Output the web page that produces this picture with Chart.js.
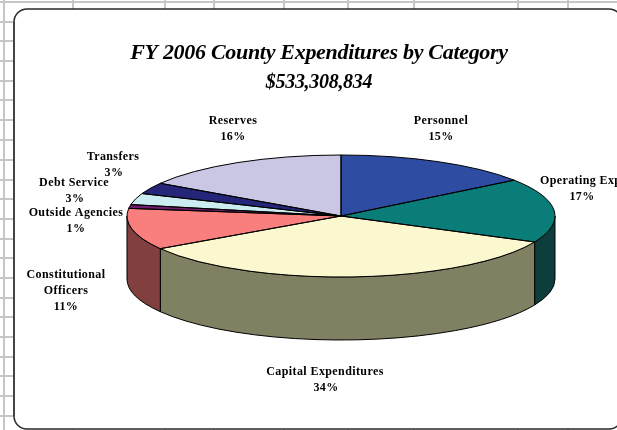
<!DOCTYPE html>
<html>
<head>
<meta charset="utf-8">
<style>
html,body{margin:0;padding:0;background:#fff;overflow:hidden;width:617px;height:430px}
#box{position:absolute;left:0;top:0;width:638px;height:430px}
canvas{display:block}
</style>
<script src="https://cdn.jsdelivr.net/npm/chart.js@4"></script>
</head>
<body>
<div id="box"><canvas id="c" width="638" height="430"></canvas></div>
<script>
const categories = ['Personnel','Operating Expenses','Capital Expenditures','Constitutional Officers','Outside Agencies','Debt Service','Transfers','Reserves'];
const shares = [15,17,34,11,1,3,3,16];
const topColors = ['#2E4CA2','#0A7D79','#FBF7CE','#F97E7E','#6E1E70','#CBEDF1','#25267A','#C9C7E3'];
const sideColors = ['#17264F','#0E3E3C','#808062','#813F3F','#380F38','#66777A','#13133D','#656472'];
const labelLines = [['Personnel'],['Operating Expenses'],['Capital Expenditures'],['Constitutional','Officers'],['Outside Agencies'],['Debt Service'],['Transfers'],['Reserves']];
const labelAnchors = [[441,121],[595,181],[325,372],[66,275],[76,213],[74,183],[113,157],[233,121]];
const percentX = [441,582,326,66,76,75,114,233];
const titleText = 'FY 2006 County Expenditures by Category';
const subtitleText = '$533,308,834';
const gridRows = [2,22,41,61,81,100,120,140,160,180,199,219,239,258,278,298,317,337,357,376,396,416];
const gridCols = [4,73,165,214,284,348,414,518,568];

const PIE = {cx:341, cy:216, rx:214, ry:61, depth:63};

function pieArcs(chart){ return chart.getDatasetMeta(0).data; }

const pie3d = {
  id:'pie3d',
  beforeDraw(chart){
    const ctx = chart.ctx;
    ctx.save();
    ctx.fillStyle = '#fff';
    ctx.fillRect(0,0,chart.width,chart.height);
    ctx.fillStyle = '#C6C6C6';
    gridRows.forEach(y=>ctx.fillRect(0,y-1,chart.width,2));
    gridCols.forEach(x=>ctx.fillRect(x-1,0,2,chart.height));
    ctx.beginPath();
    ctx.roundRect(14,9,608,420,13);
    ctx.fillStyle = '#fff';
    ctx.fill();
    ctx.lineWidth = 1.5;
    ctx.strokeStyle = '#2a2a2a';
    ctx.stroke();
    ctx.fillStyle = '#444';
    ctx.fillRect(13,22,2,394);
    ctx.restore();
    ctx.letterSpacing = '-0.3px';
  },
  beforeDatasetsDraw(chart){
    const ctx = chart.ctx;
    ctx.letterSpacing = '0px';
    const arcs = pieArcs(chart);
    ctx.save();
    ctx.lineWidth = 1;
    ctx.strokeStyle = '#000';
    arcs.forEach((arc,i)=>{
      // keep only the part of the slice on the near half of the ellipse
      const TAU = Math.PI*2;
      let s = arc.startAngle, e = arc.endAngle;
      for (const k of [0,TAU]) {
        const a = Math.max(s, k), b = Math.min(e, k+Math.PI);
        if (b <= a) continue;
        ctx.beginPath();
        ctx.ellipse(PIE.cx,PIE.cy,PIE.rx,PIE.ry,0,a,b);
        ctx.ellipse(PIE.cx,PIE.cy+PIE.depth,PIE.rx,PIE.ry,0,b,a,true);
        ctx.closePath();
        ctx.fillStyle = sideColors[i];
        ctx.fill();
        ctx.stroke();
      }
    });
    ctx.restore();
    // squash the library's round pie into the tilted top face
    const a0 = arcs[0];
    ctx.save();
    ctx.translate(PIE.cx,PIE.cy);
    ctx.scale(PIE.rx/a0.outerRadius,PIE.ry/a0.outerRadius);
    ctx.translate(-a0.x,-a0.y);
  },
  afterDatasetsDraw(chart){
    const ctx = chart.ctx;
    ctx.restore();
    const arcs = pieArcs(chart);
    ctx.save();
    ctx.lineWidth = 1;
    ctx.strokeStyle = '#000';
    arcs.forEach(arc=>{
      ctx.beginPath();
      ctx.moveTo(PIE.cx,PIE.cy);
      ctx.ellipse(PIE.cx,PIE.cy,PIE.rx,PIE.ry,0,arc.startAngle,arc.endAngle);
      ctx.closePath();
      ctx.stroke();
    });
    ctx.restore();
  },
  afterDraw(chart){
    const ctx = chart.ctx;
    ctx.save();
    ctx.font = 'bold 12px "Liberation Serif"';
    ctx.letterSpacing = '0.4px';
    ctx.fillStyle = '#000';
    ctx.textAlign = 'center';
    ctx.textBaseline = 'middle';
    categories.forEach((name,i)=>{
      const [x,y] = labelAnchors[i];
      const lines = labelLines[i];
      lines.forEach((t,j)=>ctx.fillText(t,x,y+j*16));
      ctx.fillText(shares[i]+'%',percentX[i],y+lines.length*16);
    });
    ctx.restore();
  }
};

new Chart(document.getElementById('c'),{
  type:'pie',
  data:{
    labels:categories,
    datasets:[{
      data:shares,
      backgroundColor:topColors,
      borderWidth:0,
      radius:214,
      clip:false
    }]
  },
  options:{
    responsive:false,
    animation:false,
    events:[],
    plugins:{
      legend:{display:false},
      tooltip:{enabled:false},
      title:{display:true,text:titleText,color:'#000',
        font:{family:'"Liberation Serif"',size:22,weight:'bold',style:'italic'},
        padding:{top:40,bottom:4}},
      subtitle:{display:true,text:subtitleText,color:'#000',
        font:{family:'"Liberation Serif"',size:20,weight:'bold',style:'italic'},
        padding:{top:0,bottom:0}}
    }
  },
  plugins:[pie3d]
});
</script>
</body>
</html>
